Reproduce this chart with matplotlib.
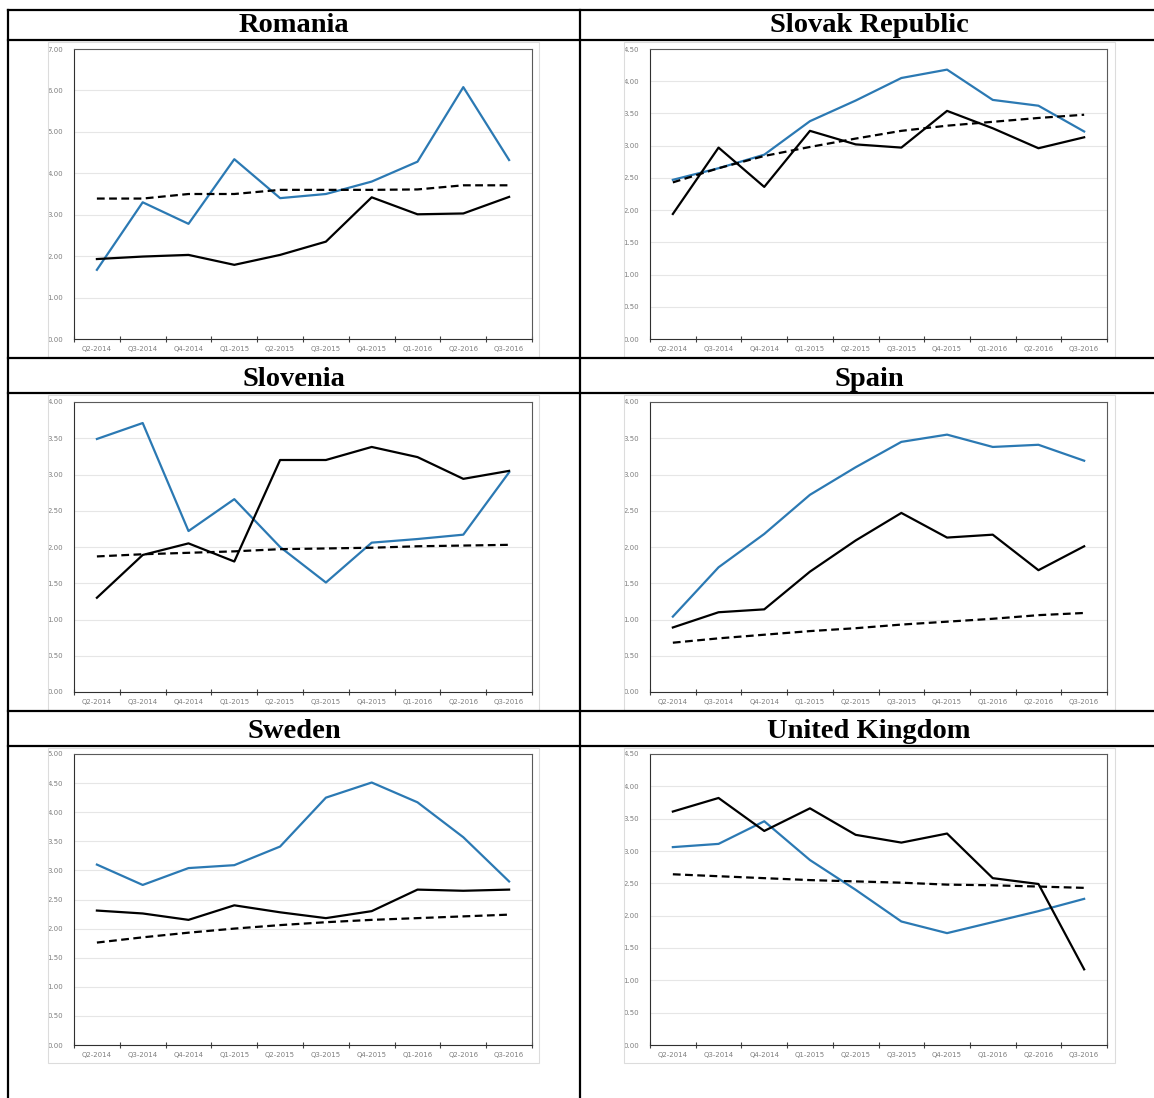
import matplotlib.pyplot as plt
from matplotlib.patches import Rectangle
from matplotlib.lines import Line2D

quarters = ["Q2-2014", "Q3-2014", "Q4-2014", "Q1-2015", "Q2-2015",
            "Q3-2015", "Q4-2015", "Q1-2016", "Q2-2016", "Q3-2016"]

# blue line, black line, dashed black trend
romania_blue = [1.67, 3.30, 2.78, 4.34, 3.40, 3.50, 3.80, 4.28, 6.08, 4.32]
romania_black = [1.93, 1.99, 2.03, 1.79, 2.03, 2.35, 3.42, 3.01, 3.03, 3.43]
romania_trend = [3.39, 3.39, 3.50, 3.50, 3.60, 3.60, 3.60, 3.61, 3.71, 3.71]

slovak_blue = [2.47, 2.65, 2.86, 3.38, 3.70, 4.05, 4.18, 3.71, 3.62, 3.22]
slovak_black = [1.94, 2.97, 2.36, 3.23, 3.02, 2.97, 3.54, 3.27, 2.96, 3.13]
slovak_trend = [2.43, 2.65, 2.84, 2.98, 3.11, 3.23, 3.31, 3.37, 3.43, 3.48]

slovenia_blue = [3.49, 3.71, 2.22, 2.66, 2.00, 1.51, 2.06, 2.11, 2.17, 3.03]
slovenia_black = [1.30, 1.89, 2.05, 1.80, 3.20, 3.20, 3.38, 3.24, 2.94, 3.05]
slovenia_trend = [1.87, 1.90, 1.92, 1.94, 1.97, 1.98, 1.99, 2.01, 2.02, 2.03]

spain_blue = [1.04, 1.72, 2.18, 2.72, 3.10, 3.45, 3.55, 3.38, 3.41, 3.19]
spain_black = [0.89, 1.10, 1.14, 1.66, 2.09, 2.47, 2.13, 2.17, 1.68, 2.01]
spain_trend = [0.68, 0.74, 0.79, 0.84, 0.88, 0.93, 0.97, 1.01, 1.06, 1.09]

sweden_blue = [3.10, 2.75, 3.04, 3.09, 3.41, 4.25, 4.51, 4.17, 3.57, 2.81]
sweden_black = [2.31, 2.26, 2.15, 2.40, 2.28, 2.18, 2.30, 2.67, 2.65, 2.67]
sweden_trend = [1.76, 1.85, 1.93, 2.00, 2.06, 2.11, 2.15, 2.18, 2.21, 2.24]

uk_blue = [3.06, 3.11, 3.46, 2.86, 2.40, 1.91, 1.73, 1.90, 2.07, 2.26]
uk_black = [3.61, 3.82, 3.31, 3.66, 3.25, 3.13, 3.27, 2.58, 2.49, 1.17]
uk_trend = [2.64, 2.61, 2.58, 2.55, 2.53, 2.51, 2.48, 2.47, 2.45, 2.43]

W, H = 1154, 1098
fig = plt.figure(figsize=(W / 100, H / 100), dpi=100)


def fx(px):
    return px / W


def fy(py):
    return 1 - py / H


def add_panel(x0, y0, x1, y1, box, title, ty, tx, blue, black, trend, ymax, step):
    # light grey chart-area border
    bx0, by0, bx1, by1 = box
    fig.patches.append(Rectangle((fx(bx0), fy(by1)), fx(bx1 - bx0), (by1 - by0) / H,
                                 transform=fig.transFigure, fill=False,
                                 edgecolor="#dcdcdc", lw=0.8))
    ax = fig.add_axes([fx(x0), fy(y1), fx(x1 - x0), (y1 - y0) / H])
    x = range(len(quarters))
    ax.plot(x, blue, color="#2b79b3", lw=1.6, zorder=3)
    ax.plot(x, black, color="black", lw=1.6, zorder=3)
    ax.plot(x, trend, color="black", lw=1.6, ls=(0, (3.5, 2)), zorder=3)
    ax.set_xlim(-0.5, len(quarters) - 0.5)
    ax.set_ylim(0, ymax)
    n = int(round(ymax / step))
    yt = [i * step for i in range(n + 1)]
    ax.set_yticks(yt)
    ax.set_yticklabels(["%.2f" % v for v in yt])
    ax.set_xticks(list(x))
    ax.set_xticklabels(quarters)
    ax.set_xticks([i - 0.5 for i in range(len(quarters) + 1)], minor=True)
    ax.tick_params(axis="x", which="major", length=0, pad=5, labelsize=5, labelcolor="#7f7f7f")
    ax.tick_params(axis="x", which="minor", length=5, direction="inout", width=0.8, color="#404040")
    ax.tick_params(axis="y", length=0, pad=8, labelsize=5, labelcolor="#7f7f7f")
    ax.grid(axis="y", color="#e6e6e6", lw=0.8)
    ax.set_axisbelow(True)
    for s in ax.spines.values():
        s.set_color("#5a5a5a")
        s.set_linewidth(0.8)
    ax.spines["left"].set_color("#303030")
    ax.spines["bottom"].set_color("#303030")
    fig.text(fx(tx), fy(ty), title, ha="center", va="center", fontsize=20.5,
             fontweight="bold", family="Liberation Serif")
    return ax


left = (74, 532, (48, 539), 294)
right = (650, 1107, (624, 1115), 869)
rows = [(49, 339, (42, 357), 26), (402, 692, (395, 710), 379), (754, 1045, (748, 1063), 732)]

panels = [
    ("Romania", romania_blue, romania_black, romania_trend, 7.0, 1.0, 0, left),
    ("Slovak Republic", slovak_blue, slovak_black, slovak_trend, 4.5, 0.5, 0, right),
    ("Slovenia", slovenia_blue, slovenia_black, slovenia_trend, 4.0, 0.5, 1, left),
    ("Spain", spain_blue, spain_black, spain_trend, 4.0, 0.5, 1, right),
    ("Sweden", sweden_blue, sweden_black, sweden_trend, 5.0, 0.5, 2, left),
    ("United Kingdom", uk_blue, uk_black, uk_trend, 4.5, 0.5, 2, right),
]

for title, b, k, t, ymax, step, r, col in panels:
    y0, y1, (by0, by1), ty = rows[r]
    x0, x1, (bx0, bx1), tx = col
    add_panel(x0, y0, x1, y1, (bx0, by0, bx1, by1), title, ty, tx, b, k, t, ymax, step)

# table rules
for yy in [10, 40, 358, 393, 711, 746]:
    fig.lines.append(Line2D([fx(8), 1], [fy(yy), fy(yy)], transform=fig.transFigure,
                            color="black", lw=1.6))
for xx in [8, 580]:
    fig.lines.append(Line2D([fx(xx), fx(xx)], [fy(10), 0], transform=fig.transFigure,
                            color="black", lw=1.6))

fig.savefig("out.png", dpi=100)
